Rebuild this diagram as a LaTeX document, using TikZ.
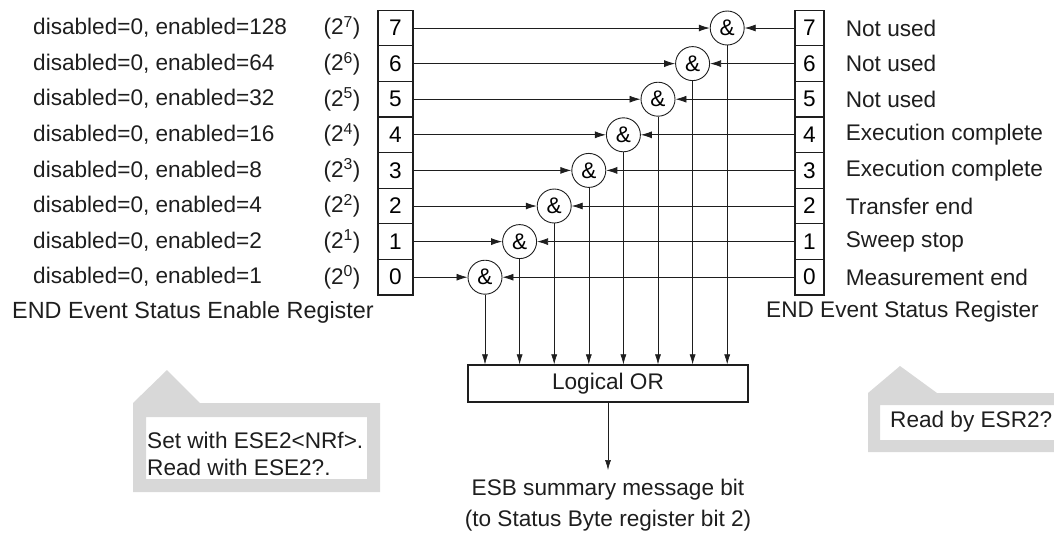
\documentclass[tikz,border=0pt]{standalone}
\usepackage{fontspec}
\setmainfont{Liberation Sans}
\usetikzlibrary{arrows.meta,positioning,calc}
\definecolor{ink}{HTML}{1E1E1E}
\definecolor{dots}{HTML}{D8D8D8}

\begin{document}
\begin{tikzpicture}[
  x=1pt,y=-1pt,
  node distance=21pt,
  font=\fontsize{22.6}{26}\selectfont,
  cell/.style={draw=ink,line width=1.3pt,minimum width=35pt,minimum height=35.6pt,inner sep=0pt},
  gate/.style={draw=ink,line width=0.9pt,circle,minimum size=34pt,inner sep=0pt},
  lbl/.style={anchor=west,inner sep=0pt,text=ink},
  arr/.style={-{Latex[length=11pt,width=7pt]},color=ink,line width=0.8pt},
  dn/.style={-{Latex[length=10pt,width=6pt]},color=ink,line width=0.6pt}]
  \useasboundingbox (0,0) rectangle (1054,542);
  \node[draw=ink,line width=1.2pt,minimum width=280pt,minimum height=37pt,text=ink] (or) at (608,383.5) {Logical OR};
  \foreach \k/\txt in {7/Not used,6/Not used,5/Not used,4/Execution complete,3/Execution complete,2/Transfer end,1/Sweep stop,0/Measurement end}{
    \pgfmathsetmacro\yy{28+(7-\k)*35.6}
    \pgfmathtruncatemacro\pw{2^\k}
    \node[cell] (L\k) at (395.5,\yy) {\k};
    \node[cell,minimum width=29pt] (R\k) at (809.5,\yy) {\k};
    \node[gate] (G\k) at ({485+\k*34.6},\yy) {\&};
    \node[lbl] (d\k) at (33,\yy) {disabled=0, enabled=\pw};
    \node[text=ink,inner sep=0pt] (p\k) at (342,\yy) {(2\textsuperscript{\k})};
    \node[lbl,right=of R\k] (s\k) {\txt};
    \draw[arr] (L\k) -- (G\k); \draw[arr] (R\k) -- (G\k);
    \draw[dn] (G\k) -- (G\k |- or.north);
  }
  \node[lbl,font=\fontsize{23.4}{26}\selectfont] (ese) at (12,312) {END Event Status Enable Register};
  \node[lbl] (esr) at (766,312) {END Event Status Register};
  \coordinate (esb) at (608,470);
  \draw[dn] (or) -- (esb);
  \node[text=ink,below=6pt of esb] (m1) {ESB summary message bit};
  \node[text=ink,below=2pt of m1] (m2) {(to Status Byte register bit 2)};
  \fill[dots,even odd rule] (133,403) -- (167,370) -- (200,403) -- (380,403) -- (380,492) -- (133,492) -- cycle (146,417) rectangle (367,479);
  \node[lbl] (set) at (147,440) {Set with ESE2<NRf>.};
  \node[lbl] (rd) at (147,467) {Read with ESE2?.};
  \fill[dots,even odd rule] (868,393) -- (900,366) -- (937,393) -- (1054,393) -- (1054,452) -- (868,452) -- cycle (880,405) rectangle (1054,440);
  \node[lbl] (rb) at (890,422) {Read by ESR2?};
\end{tikzpicture}
\end{document}
